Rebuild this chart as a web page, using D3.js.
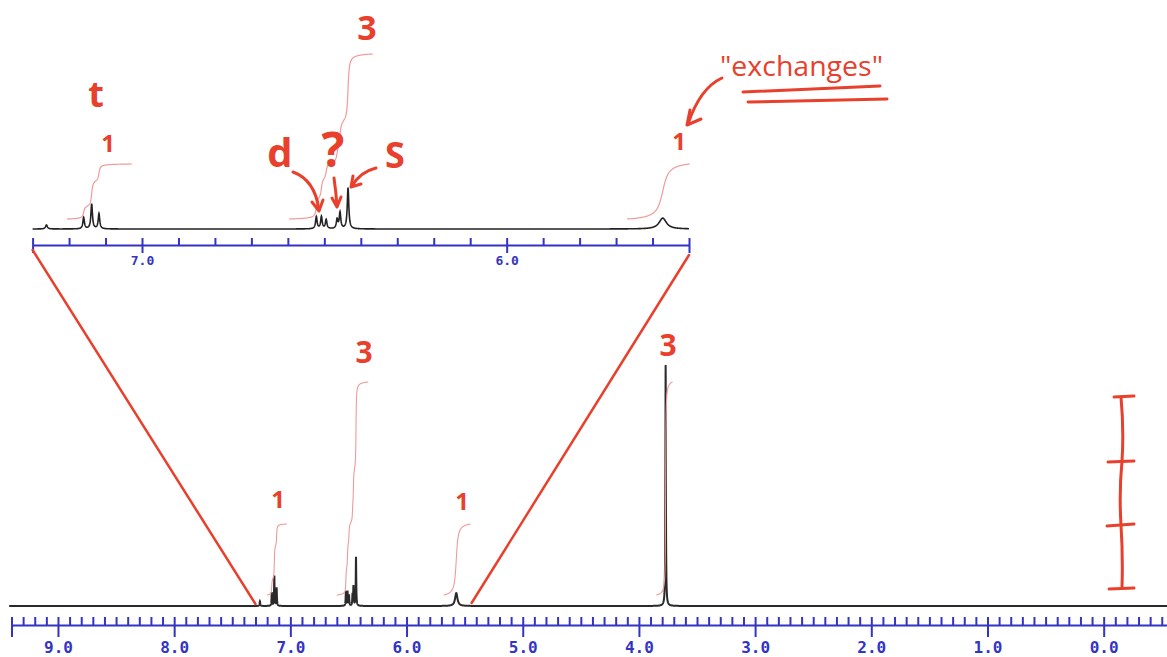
<!DOCTYPE html>
<html><head><meta charset="utf-8">
<script src="https://cdn.jsdelivr.net/npm/d3@7"></script>
<style>body{margin:0;background:#fff}svg{display:block}</style>
</head><body>
<svg id="c" width="1167" height="657"></svg>
<script>
// ---------- DATA ----------
const peakPpm    = [7.262, 7.160, 7.138, 7.118, 6.522, 6.508, 6.495, 6.465, 6.457, 6.435, 5.572, 3.770];
const peakHeight = [2.0,   5.6,   12.4,  7.5,   6.0,   6.0,   4.5,   4.5,   8.0,   20.3,  5.4,   100];
const peakWidth  = [0.003, 0.0025,0.0025,0.0025,0.0025,0.0025,0.0025,0.0025,0.0025,0.0025,0.012,0.0025];

const integralStart = [7.20, 6.60, 5.68, 3.85];
const integralEnd   = [7.03, 6.33, 5.45, 3.71];
const integralValue = [1, 3, 1, 3];

const insetIntegralStart = [7.206, 6.597, 5.67];
const insetIntegralEnd   = [7.027, 6.367, 5.498];
const insetIntegralValue = [1, 3, 1];

const mainTickLabels  = ["9.0","8.0","7.0","6.0","5.0","4.0","3.0","2.0","1.0","0.0"];
const insetTickLabels = ["7.0","6.0"];

const mainRange  = [9.4, -0.545];
const insetRange = [7.3, 5.5];

// ---------- SETUP ----------
const svg = d3.select("#c");
const BLUE = "#3333c4", RED = "#e8402c", PINK = "#f29a9a";

const xMain = d3.scaleLinear().domain(mainRange).range([11.5, 1167]);
const yMain = d3.scaleLinear().domain([0, 100]).range([606, 365]);
const yIntMain = d3.scaleLinear().domain([0, 1]).range([595, 524]);

const xIn = d3.scaleLinear().domain(insetRange).range([32.6, 689]);
const yIn = d3.scaleLinear().domain([0, 20.3]).range([229, 188]);
const yIntIn = d3.scaleLinear().domain([0, 1]).range([219, 164]);

function intensity(p) {
  let s = 0;
  for (let i = 0; i < peakPpm.length; i++) {
    const d = (p - peakPpm[i]) / peakWidth[i];
    s += peakHeight[i] / (1 + d * d);
  }
  return s;
}
function sample(a, b, step) {
  const out = [];
  const n = Math.round(Math.abs(a - b) / step);
  for (let i = 0; i <= n; i++) {
    const p = a + (b - a) * i / n;
    out.push([p, intensity(p)]);
  }
  return out;
}
function cumulative(a, b, step) {
  const pts = sample(a, b, step);
  let c = 0; const out = [[pts[0][0], 0]];
  for (let i = 1; i < pts.length; i++) { c += (pts[i][1] + pts[i-1][1]) / 2; out.push([pts[i][0], c]); }
  return out.map(d => [d[0], d[1] / c]);
}

// ---------- MAIN SPECTRUM ----------
const mainData = sample(9.42, -0.55, 0.0005);
svg.append("path").datum(mainData)
  .attr("d", d3.line().x(d => xMain(d[0])).y(d => yMain(d[1])))
  .attr("fill", "none").attr("stroke", "#2a2a2a").attr("stroke-width", 2);

integralStart.forEach((s, i) => {
  const c = cumulative(s, integralEnd[i], 0.0005);
  svg.append("path").datum(c)
    .attr("d", d3.line().x(d => xMain(d[0])).y(d => yIntMain(d[1] * integralValue[i])))
    .attr("fill", "none").attr("stroke", PINK).attr("stroke-width", 1.1);
});

// main axis
function styleAxis(g, fs) {
  g.selectAll("path.domain").attr("stroke", BLUE).attr("stroke-width", 2);
  g.selectAll(".tick line").attr("stroke", BLUE).attr("stroke-width", 2);
  g.selectAll(".tick text").attr("fill", BLUE).attr("font-family", "DejaVu Sans Mono")
    .attr("font-size", fs).attr("font-weight", "bold");
}
const mainMinor = d3.range(94, -6, -1).map(v => v / 10);
const mainMajor = mainTickLabels.map(Number);
const gMinor = svg.append("g").attr("transform", "translate(0,625)")
  .call(d3.axisTop(xMain).tickValues(mainMinor).tickSize(8).tickSizeOuter(0).tickFormat(""));
styleAxis(gMinor, 16);
const gMajor = svg.append("g").attr("transform", "translate(0,625)")
  .call(d3.axisBottom(xMain).tickValues(mainMajor.concat([9.4])).tickSize(12).tickSizeOuter(0).tickPadding(5)
    .tickFormat(d => mainTickLabels.includes(d3.format(".1f")(d)) ? d3.format(".1f")(d) : ""));
gMajor.select("path.domain").remove();
styleAxis(gMajor, 16);

// ---------- INSET ----------
const inData = sample(insetRange[0], insetRange[1], 0.0005);
svg.append("path").datum(inData)
  .attr("d", d3.line().x(d => xIn(d[0])).y(d => yIn(d[1])))
  .attr("fill", "none").attr("stroke", "#222").attr("stroke-width", 1.6);

insetIntegralStart.forEach((s, i) => {
  const c = cumulative(s, insetIntegralEnd[i], 0.0005);
  svg.append("path").datum(c)
    .attr("d", d3.line().x(d => xIn(d[0])).y(d => yIntIn(d[1] * insetIntegralValue[i])))
    .attr("fill", "none").attr("stroke", PINK).attr("stroke-width", 1.2);
});

const inMinor = d3.range(73, 54, -1).map(v => v / 10);
const inMajor = insetTickLabels.map(Number).concat(insetRange);
const giMinor = svg.append("g").attr("transform", "translate(0,245)")
  .call(d3.axisTop(xIn).tickValues(inMinor).tickSize(7).tickSizeOuter(0).tickFormat(""));
styleAxis(giMinor, 13);
const giMajor = svg.append("g").attr("transform", "translate(0,245)")
  .call(d3.axisBottom(xIn).tickValues(inMajor).tickSize(8).tickSizeOuter(0).tickPadding(3)
    .tickFormat(d => insetTickLabels.includes(d3.format(".1f")(d)) ? d3.format(".1f")(d) : ""));
giMajor.select("path.domain").remove();
styleAxis(giMajor, 13);

// ---------- HAND ANNOTATIONS ----------
const ann = svg.append("g").attr("fill", "none").attr("stroke", RED)
  .attr("stroke-linecap", "round").attr("stroke-linejoin", "round");
// zoom connectors
ann.append("line").attr("x1", xIn(insetRange[0])).attr("y1", 250).attr("x2", xMain(insetRange[0])).attr("y2", 604).attr("stroke-width", 2.5);
ann.append("line").attr("x1", xIn(insetRange[1])).attr("y1", 255).attr("x2", xMain(5.44)).attr("y2", 603).attr("stroke-width", 2.5);
// arrows
const arrows = [
  "M293,172 Q315,180 319,210", "M312,202 L319,211 L323,200",
  "M334,178 Q336,192 337,206", "M332,198 L337,207 L341,197",
  "M376,168 Q360,172 352,186", "M353,176 L351,187 L361,184",
  "M722,78 Q700,88 688,124", "M690,110 L687,125 L701,119",
  "M743,92 L880,86", "M748,102 L887,99",
  "M1121,397 Q1124,430 1122,461 Q1119,492 1121,525 Q1123,556 1122,588",
  "M1114,397 L1134,396", "M1108,462 L1134,461", "M1107,526 L1134,524", "M1109,589 L1134,588"
];
arrows.forEach(d => ann.append("path").attr("d", d).attr("stroke-width", 3));

const txt = svg.append("g").attr("fill", RED).attr("font-family", "Open Sans").attr("font-weight", "bold")
  .attr("text-anchor", "middle");
const labels = [
  ["3", 367, 40, 34], ["t", 96, 107, 36], ["1", 108, 152, 24],
  ["d", 280, 167, 40], ["?", 333, 167, 48], ["S", 395, 168, 36],
  ["1", 679, 150, 24],
  ["3", 364, 363, 30], ["1", 278, 508, 24], ["1", 462, 510, 24], ["3", 668, 356, 30]
];
labels.forEach(([t, x, y, s]) => txt.append("text").attr("x", x).attr("y", y).attr("font-size", s).text(t));
txt.append("text").attr("x", 720).attr("y", 76).attr("text-anchor", "start").attr("font-weight", "normal")
  .attr("font-size", 27).attr("textLength", 163).attr("lengthAdjust", "spacingAndGlyphs").text("\"exchanges\"");
</script>
</body></html>
